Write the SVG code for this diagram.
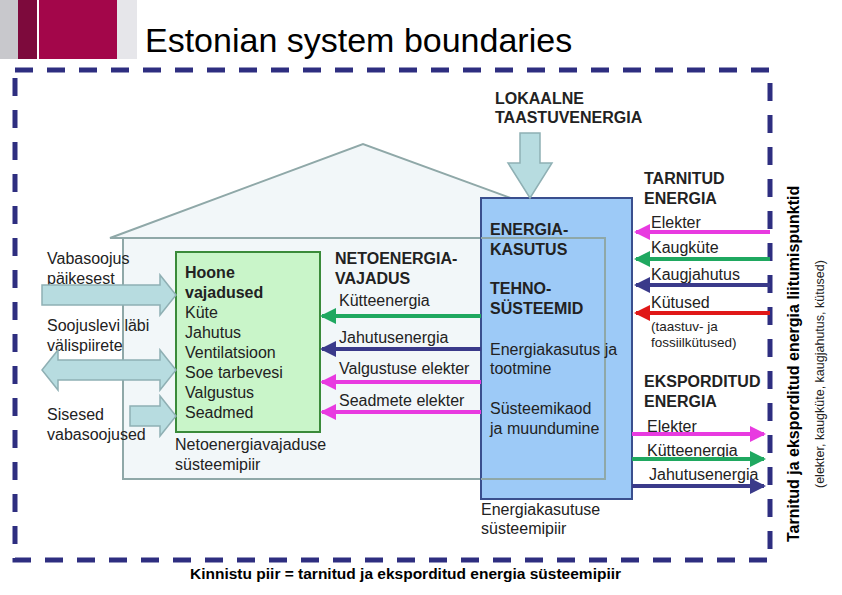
<svg xmlns="http://www.w3.org/2000/svg" width="842" height="595" viewBox="0 0 842 595">
<style>
text{font-family:"Liberation Sans",Arial,sans-serif;fill:#222}
.t{font-size:16px}
.b{font-size:16px;font-weight:bold}
.s{font-size:13.5px}
.fat{fill:#b7dce0;stroke:#8fb0b4;stroke-width:1.5}
</style>
<defs>
<marker id="hm" markerWidth="4" markerHeight="4" refX="3.5" refY="2" orient="auto" markerUnits="strokeWidth"><path d="M0,0L4,2L0,4z" fill="context-stroke"/></marker>
</defs>
<rect width="842" height="595" fill="#fff"/>
<g id="header">
<rect x="0" y="0" width="18" height="59" fill="#c8c8cc"/>
<rect x="18" y="0" width="19" height="59" fill="#7d0a3c"/>
<rect x="39" y="0" width="78" height="59" fill="#a3064a"/>
<rect x="117" y="0" width="20" height="59" fill="#e6e6ea"/>
<text x="145" y="52" style="font-size:34px;fill:#000">Estonian system boundaries</text>
</g>
<g id="house">
<path d="M110,238 L363,144 L620,238 Z" fill="#f2f7f9" stroke="#8fa8a8" stroke-width="2"/>
<rect x="123" y="238" width="482" height="241" fill="#f2f7f9" stroke="#8fa8a8" stroke-width="2"/>
</g>
<g id="energy-box">
<rect x="481" y="198" width="151" height="301" fill="#9dcaf7" stroke="#3a4f8e" stroke-width="2"/>
<path d="M481,238 L605,238 L605,479 L481,479" fill="none" stroke="#8fa8a8" stroke-width="2"/>
<text class="b" x="490" y="235">ENERGIA-</text>
<text class="b" x="490" y="255">KASUTUS</text>
<text class="b" x="490" y="294">TEHNO-</text>
<text class="b" x="490" y="314">SÜSTEEMID</text>
<text class="t" x="490" y="355">Energiakasutus ja</text>
<text class="t" x="490" y="374">tootmine</text>
<text class="t" x="490" y="414">Süsteemikaod</text>
<text class="t" x="490" y="434">ja muundumine</text>
<text class="t" x="481" y="515">Energiakasutuse</text>
<text class="t" x="481" y="534">süsteemipiir</text>
</g>
<g id="needs-box">
<rect x="176" y="252" width="144" height="180" fill="#c9f5c9" stroke="#3a8a3a" stroke-width="2"/>
<text class="b" x="185" y="278">Hoone</text>
<text class="b" x="185" y="298">vajadused</text>
<text class="t" x="185" y="318">Küte</text>
<text class="t" x="185" y="338">Jahutus</text>
<text class="t" x="185" y="358">Ventilatsioon</text>
<text class="t" x="185" y="378">Soe tarbevesi</text>
<text class="t" x="185" y="398">Valgustus</text>
<text class="t" x="185" y="418">Seadmed</text>
<text class="t" x="175" y="450">Netoenergiavajaduse</text>
<text class="t" x="175" y="470">süsteemipiir</text>
</g>
<g id="border">
<rect x="15" y="70" width="755" height="490" fill="none" stroke="#2e2e80" stroke-width="5" stroke-dasharray="18,14"/>
</g>
<g id="labels">
<text class="b" x="495" y="104">LOKAALNE</text>
<text class="b" x="495" y="123">TAASTUVENERGIA</text>
<text class="b" x="335" y="264">NETOENERGIA-</text>
<text class="b" x="335" y="284">VAJADUS</text>
<text class="t" x="339" y="306">Kütteenergia</text>
<text class="t" x="339" y="343">Jahutusenergia</text>
<text class="t" x="339" y="374">Valgustuse elekter</text>
<text class="t" x="339" y="406">Seadmete elekter</text>
<text class="b" x="644" y="184">TARNITUD</text>
<text class="b" x="644" y="204">ENERGIA</text>
<text class="t" x="651" y="228">Elekter</text>
<text class="t" x="651" y="253">Kaugküte</text>
<text class="t" x="651" y="280">Kaugjahutus</text>
<text class="t" x="651" y="308">Kütused</text>
<text class="s" x="651" y="331">(taastuv- ja</text>
<text class="s" x="651" y="347">fossiilkütused)</text>
<text class="b" x="644" y="387">EKSPORDITUD</text>
<text class="b" x="644" y="407">ENERGIA</text>
<text class="t" x="647" y="432">Elekter</text>
<text class="t" x="647" y="456">Kütteenergia</text>
<text class="t" x="649" y="480">Jahutusenergia</text>
<text class="t" x="47" y="264">Vabasoojus</text>
<text class="t" x="47" y="284">päikesest</text>
<text class="t" x="47" y="331">Soojuslevi läbi</text>
<text class="t" x="47" y="351">välispiirete</text>
<text class="t" x="47" y="420">Sisesed</text>
<text class="t" x="47" y="440">vabasoojused</text>
<text x="190" y="579" style="font-size:15.5px;font-weight:bold;fill:#000">Kinnistu piir = tarnitud ja eksporditud energia süsteemipiir</text>
<text transform="translate(799,542) rotate(-90)" style="font-size:16px;font-weight:bold;fill:#000">Tarnitud ja eksporditud energia liitumispunktid</text>
<text transform="translate(824,488) rotate(-90)" style="font-size:12.5px">(elekter, kaugküte, kaugjahutus, kütused)</text>
</g>
<g id="connectors" fill="none" stroke-width="4">
<path class="fat" d="M520,133 h20 v30 h12 l-22,35 l-22,-35 h12 z"/>
<path class="fat" d="M42,285 h118 v-10 l16,20 l-16,20 v-10 h-118 z"/>
<path class="fat" d="M42,370 l16,-20 v10 h102 v-10 l16,20 l-16,20 v-10 h-102 v10 z"/>
<path class="fat" d="M130,406 h30 v-10 l16,20 l-16,20 v-10 h-30 z"/>
<path d="M770,232 H636" stroke="#e83ae0" marker-end="url(#hm)"/>
<path d="M770,259 H636" stroke="#1fa860" marker-end="url(#hm)"/>
<path d="M770,285 H636" stroke="#3a3a8a" marker-end="url(#hm)"/>
<path d="M770,313 H636" stroke="#e01818" marker-end="url(#hm)"/>
<path d="M632,434 H764" stroke="#e83ae0" marker-end="url(#hm)"/>
<path d="M632,459 H764" stroke="#1fa860" marker-end="url(#hm)"/>
<path d="M632,486 H764" stroke="#3a3a8a" marker-end="url(#hm)"/>
<path d="M481,316 H322" stroke="#1fa860" marker-end="url(#hm)"/>
<path d="M481,349 H322" stroke="#3a3a8a" marker-end="url(#hm)"/>
<path d="M481,382 H322" stroke="#e83ae0" marker-end="url(#hm)"/>
<path d="M481,412 H322" stroke="#e83ae0" marker-end="url(#hm)"/>
</g>
</svg>
